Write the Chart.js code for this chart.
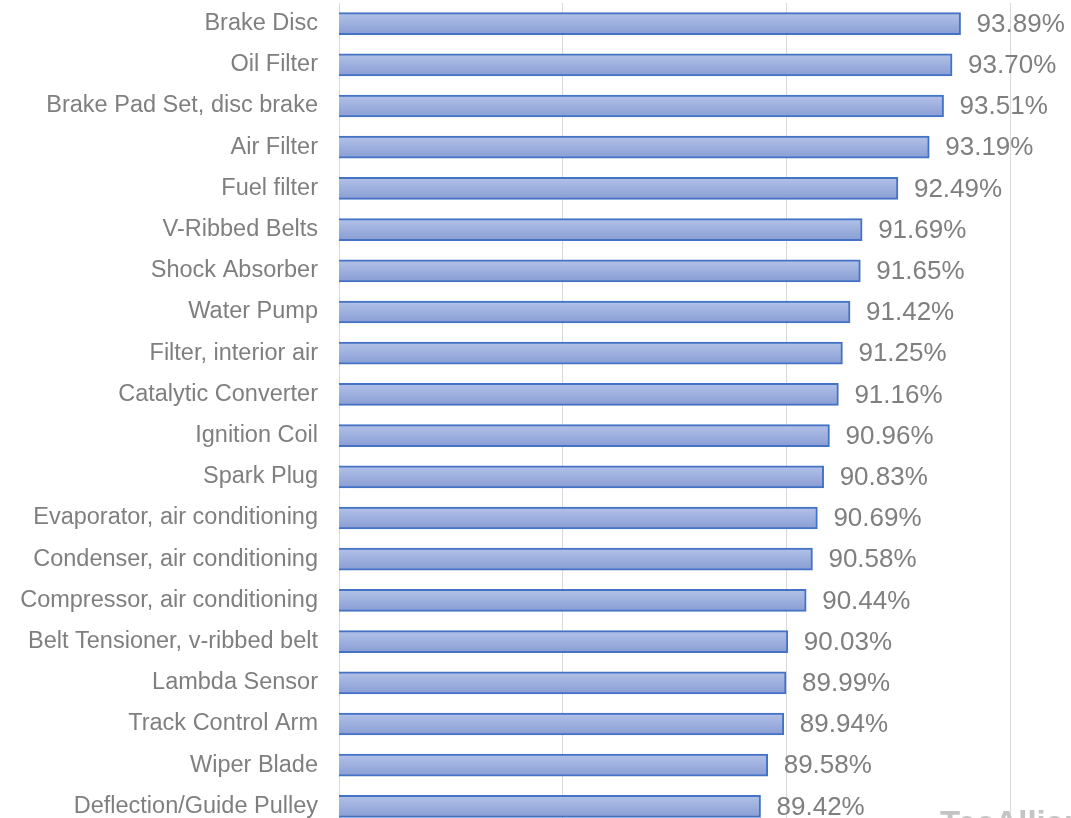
<!DOCTYPE html>
<html>
<head>
<meta charset="utf-8">
<script src="https://cdn.jsdelivr.net/npm/chart.js@4/dist/chart.umd.min.js"></script>
<style>
  html, body { margin: 0; padding: 0; background: #fff; overflow: hidden; }
  #wrap { position: absolute; left: 0; top: 0; width: 1240px; height: 827px; }
</style>
</head>
<body>
<div id="wrap"><canvas id="chart" width="1240" height="827"></canvas></div>
<script>
// Data
const parts = [
    'Brake Disc', 'Oil Filter', 'Brake Pad Set, disc brake', 'Air Filter', 'Fuel filter',
    'V-Ribbed Belts', 'Shock Absorber', 'Water Pump', 'Filter, interior air', 'Catalytic Converter',
    'Ignition Coil', 'Spark Plug', 'Evaporator, air conditioning', 'Condenser, air conditioning',
    'Compressor, air conditioning', 'Belt Tensioner, v-ribbed belt', 'Lambda Sensor',
    'Track Control Arm', 'Wiper Blade', 'Deflection/Guide Pulley'
];
const shares = [
    93.89, 93.70, 93.51, 93.19, 92.49,
    91.69, 91.65, 91.42, 91.25, 91.16,
    90.96, 90.83, 90.69, 90.58,
    90.44, 90.03, 89.99,
    89.94, 89.58, 89.42
];
const axisMin = 80;
const axisMax = 100;
const axisStep = 5;

const font = "'Liberation Sans', Arial, sans-serif";
const grey = '#7f7f7f';

// value labels at the end of each bar
const valueLabels = {
    id: 'valueLabels',
    afterDatasetsDraw(chart) {
        const ctx = chart.ctx;
        const meta = chart.getDatasetMeta(0);
        ctx.save();
        ctx.font = '26px ' + font;
        ctx.fillStyle = grey;
        ctx.textAlign = 'left';
        ctx.textBaseline = 'middle';
        meta.data.forEach((bar, i) => {
            ctx.fillText(shares[i].toFixed(2) + '%', bar.x + 16, bar.y + 1);
        });
        // watermark, cut off by the frame like in the original
        ctx.font = 'bold 33px ' + font;
        ctx.fillStyle = '#c4c4c4';
        ctx.textBaseline = 'alphabetic';
        ctx.fillText('TecAlliance', 940, 834);
        ctx.restore();
    }
};

new Chart(document.getElementById('chart').getContext('2d'), {
    type: 'bar',
    data: {
        labels: parts,
        datasets: [{
            data: shares,
            backgroundColor: (c) => {
                const chart = c.chart;
                const y = chart.scales.y;
                if (!chart.chartArea || !y) return '#9db0dd';
                const py = y.getPixelForValue(c.dataIndex);
                const g = chart.ctx.createLinearGradient(0, py - 11, 0, py + 11);
                g.addColorStop(0, '#b3c2e8');
                g.addColorStop(1, '#889dd4');
                return g;
            },
            borderColor: '#4472c4',
            borderWidth: 2,
            borderSkipped: false,
            barThickness: 22
        }]
    },
    options: {
        indexAxis: 'y',
        responsive: false,
        animation: false,
        devicePixelRatio: 1,
        layout: { padding: { top: 3, bottom: 0, left: 0, right: 6 } },
        plugins: {
            legend: { display: false },
            tooltip: { enabled: false }
        },
        scales: {
            x: {
                min: axisMin,
                max: axisMax,
                ticks: { display: false, stepSize: axisStep },
                grid: { color: '#d9d9d9', lineWidth: 1, drawTicks: false },
                border: { display: false },
                afterFit: (s) => { s.height = 0; s.paddingLeft = 0; s.paddingRight = 0; }
            },
            y: {
                grid: { display: false, drawTicks: false },
                border: { display: false },
                ticks: {
                    color: grey,
                    font: { family: font, size: 23.5 },
                    padding: 21,
                    autoSkip: false
                },
                afterFit: (s) => {
                    s.width = 339;
                    s.paddingTop = 0;
                    s.paddingBottom = 0;
                }
            }
        }
    },
    plugins: [valueLabels]
});
</script>
</body>
</html>
